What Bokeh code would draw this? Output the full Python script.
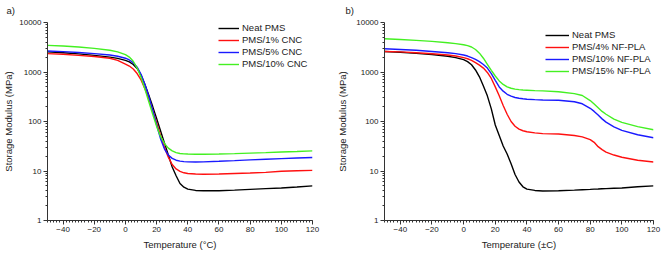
from bokeh.plotting import figure
from bokeh.models import FixedTicker, Legend, LegendItem, Range1d, PrintfTickFormatter
from bokeh.layouts import row
from bokeh.embed import file_html
from bokeh.resources import INLINE

FONT = "Liberation Sans"

# ---------------- data: panel a) ----------------
temp_a = [-50, -40, -30, -20, -10, -5, 0, 2.5, 5, 7.5, 10, 12.5, 15, 17.5, 20, 22.5,
          25, 27.5, 30, 32.5, 35, 37.5, 40, 45, 50, 60, 70, 80, 90, 100, 110, 120]
neat_a = [2550, 2450, 2320, 2170, 2000, 1880, 1720, 1600, 1420, 1180, 870, 560, 340, 200, 115, 65,
          37, 21, 12, 8, 5.6, 4.7, 4.3, 4.05, 4.0, 4.0, 4.1, 4.25, 4.4, 4.55, 4.75, 5.0]
cnc1_a = [2350, 2280, 2170, 2050, 1900, 1720, 1450, 1320, 1150, 930, 690, 460, 290, 170, 95, 52,
          30, 19, 13.5, 11, 9.8, 9.2, 8.9, 8.7, 8.6, 8.7, 8.9, 9.1, 9.4, 9.9, 10.1, 10.3]
cnc5_a = [2650, 2580, 2480, 2350, 2200, 2080, 1900, 1750, 1550, 1250, 900, 560, 320, 170, 85, 45,
          28, 21, 18, 16.5, 15.8, 15.5, 15.3, 15.2, 15.3, 15.7, 16.2, 16.8, 17.3, 17.8, 18.3, 18.7]
cnc10_a = [3450, 3350, 3200, 3000, 2750, 2550, 2250, 2000, 1650, 1200, 780, 450, 250, 140, 80, 50,
           36, 29, 25.5, 23.5, 22.6, 22.2, 22, 21.8, 21.8, 22, 22.4, 23, 23.5, 24.2, 24.8, 25.5]
names_a = ["Neat PMS", "PMS/1% CNC", "PMS/5% CNC", "PMS/10% CNC"]

# ---------------- data: panel b) ----------------
temp_b = [-50, -40, -30, -20, -10, -5, 0, 2.5, 5, 7.5, 10, 12.5, 15, 17.5, 20, 22.5,
          25, 27.5, 30, 32.5, 35, 37.5, 40, 45, 50, 60, 70, 75, 80, 82.5, 85, 87.5, 90, 95, 100, 110, 120]
neat_b = [2600, 2500, 2380, 2250, 2080, 1950, 1780, 1620, 1400, 1100, 800, 520, 330, 180, 85, 52,
          32, 22, 14, 8.5, 6.0, 4.8, 4.3, 4.05, 3.95, 4.0, 4.1, 4.18, 4.25, 4.3, 4.33, 4.37, 4.4, 4.48, 4.55, 4.8, 5.0]
pla4_b = [2600, 2550, 2450, 2330, 2200, 2100, 1950, 1850, 1720, 1550, 1380, 1200, 980, 740, 500, 330,
          210, 140, 100, 80, 70, 65, 62, 59, 57, 56, 52, 49, 43, 38, 31, 27, 24, 21, 19, 16.5, 15.2]
pla10_b = [2950, 2850, 2750, 2600, 2450, 2350, 2200, 2100, 1950, 1800, 1620, 1420, 1200, 930, 680, 500,
           410, 355, 325, 305, 295, 288, 282, 276, 272, 268, 250, 228, 185, 160, 135, 113, 97, 78, 66, 54, 47]
pla15_b = [4700, 4550, 4350, 4150, 3900, 3750, 3550, 3400, 3200, 2850, 2400, 1900, 1430, 1080, 830, 660,
           560, 500, 470, 450, 440, 432, 428, 420, 415, 400, 365, 335, 265, 225, 190, 160, 140, 112, 96, 79, 68]
names_b = ["Neat PMS", "PMS/4% NF-PLA", "PMS/10% NF-PLA", "PMS/15% NF-PLA"]

colors = ["#000000", "#ff1010", "#1a1aff", "#44f022"]

x_major = [-40, -20, 0, 20, 40, 60, 80, 100, 120]
x_minor = list(range(-50, 121, 2))
y_major = [1, 10, 100, 1000, 10000]
y_minor = [m * 10 ** e for e in range(4) for m in range(2, 10)]

TXT = "#222222"


def make_panel(width, bl, br, tag, tag_offset, xlabel, ylab_standoff, temps, series, names,
               legend_loc, glyph_w):
    p = figure(width=width, height=253, y_axis_type="log",
               x_range=Range1d(-50, 120), y_range=Range1d(1, 10000),
               output_backend="svg", toolbar_location=None, title=tag,
               min_border_left=bl, min_border_right=br, min_border_top=21, min_border_bottom=33)
    p.outline_line_color = None
    p.grid.visible = False
    p.title.text_font = FONT
    p.title.text_font_size = "9.5px"
    p.title.text_font_style = "normal"
    p.title.text_color = TXT
    p.title.align = "left"
    p.title.vertical_align = "top"
    p.title.offset = tag_offset
    p.title.standoff = 9

    p.xaxis[0].ticker = FixedTicker(ticks=x_major, minor_ticks=x_minor)
    p.yaxis[0].ticker = FixedTicker(ticks=y_major, minor_ticks=y_minor)
    p.yaxis[0].formatter = PrintfTickFormatter(format="%d")
    p.xaxis[0].axis_label = xlabel
    p.yaxis[0].axis_label = "Storage Modulus (MPa)"
    for ax in (p.xaxis[0], p.yaxis[0]):
        ax.axis_line_color = "#333333"
        ax.major_tick_line_color = "#333333"
        ax.minor_tick_line_color = "#333333"
        ax.major_tick_out = 4
        ax.major_tick_in = 0
        ax.minor_tick_out = 2
        ax.minor_tick_in = 0
        ax.major_label_text_font = FONT
        ax.major_label_text_font_size = "8px"
        ax.major_label_text_color = TXT
        ax.major_label_standoff = 2
        ax.axis_label_text_font = FONT
        ax.axis_label_text_font_size = "9.5px"
        ax.axis_label_text_font_style = "normal"
        ax.axis_label_text_color = TXT
    p.xaxis[0].axis_label_standoff = 4
    p.yaxis[0].axis_label_standoff = ylab_standoff

    items = []
    for ys, c, nm in zip(series, colors, names):
        r = p.line(temps, ys, line_color=c, line_width=1.4)
        items.append(LegendItem(label=nm, renderers=[r]))
    leg = Legend(items=items, location=legend_loc, glyph_width=glyph_w, glyph_height=10,
                 label_height=10, spacing=1, padding=0, margin=0, label_standoff=3,
                 border_line_alpha=0, background_fill_alpha=0,
                 label_text_font=FONT, label_text_font_size="9.5px", label_text_color=TXT)
    p.add_layout(leg)
    return p


p1 = make_panel(330, 41, 18, "a)", -41, "Temperature (\u00b0C)", 2, temp_a,
                [neat_a, cnc1_a, cnc5_a, cnc10_a], names_a, (171, 151), 21)
p2 = make_panel(331, 54, 8, "b)", -39, "Temperature (\u00b1C)", 5, temp_b,
                [neat_b, pla4_b, pla10_b, pla15_b], names_b, (161, 144), 24)

layout = row(p1, p2)
open("out.html", "w").write(file_html(layout, INLINE))
